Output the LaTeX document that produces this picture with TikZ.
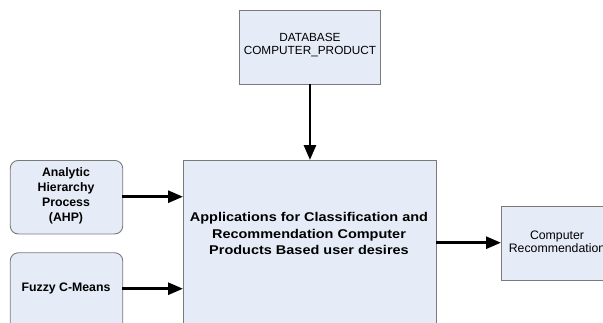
\documentclass[tikz,border=0pt]{standalone}
\usepackage{fontspec}
\setmainfont{Liberation Sans}
\newfontfamily\widefont{Liberation Sans}[FakeStretch=1.14]
\usetikzlibrary{arrows.meta}
\definecolor{boxfill}{HTML}{E6ECF7}
\definecolor{boxline}{HTML}{7A7A7A}
\tikzset{
  blk/.style={draw=boxline, fill=boxfill, line width=0.9pt, inner sep=0pt, anchor=north west},
  rblk/.style={blk, rounded corners=8pt},
  conn/.style={line width=2.8pt, -{Triangle[length=15pt,width=12pt]}},
  lbl/.style={align=center, inner sep=0pt},
}
\begin{document}
\begin{tikzpicture}[x=1pt,y=-1pt]
\useasboundingbox (0,0) rectangle (603,322);
\clip (0,0) rectangle (603,322);
% boxes
\node[blk, minimum width=141pt, minimum height=74pt] (db) at (239,9.5) {};
\node[blk, minimum width=253pt, minimum height=200pt] (main) at (183,160) {};
\node[rblk, minimum width=112.5pt, minimum height=73.5pt] (ahp) at (9.8,160) {};
\node[rblk, minimum width=112.5pt, minimum height=100pt] (fcm) at (9.8,252.3) {};
\node[blk, minimum width=200pt, minimum height=73.5pt] (rec) at (501,206) {};
% labels
\node[lbl, font=\fontsize{11.8}{13.3}\selectfont] (dbt) at (310,45) {DATABASE\\COMPUTER\_PRODUCT};
\node[lbl, font=\widefont\bfseries\fontsize{12.7}{16.6}\selectfont] (maint) at (309,233.5) {Applications for Classification and\\Recommendation Computer\\Products Based user desires};
\node[lbl, font=\bfseries\fontsize{12.3}{14.8}\selectfont] (ahpt) at (66,196) {Analytic\\Hierarchy\\Process\\(AHP)};
\node[lbl, font=\bfseries\fontsize{12.3}{14.8}\selectfont] (fcmt) at (66,288.3) {Fuzzy C-Means};
\node[lbl, font=\fontsize{12.3}{13.3}\selectfont] (rect) at (557,242) {Computer\\Recommendation};
% connectors
\coordinate (ahpout) at (122.3,196.7);
\coordinate (ahpin) at (183,196.7);
\coordinate (fcmout) at (122.3,288.7);
\coordinate (fcmin) at (183,288.7);
\coordinate (mainout) at (436,242.7);
\coordinate (recin) at (501,242.7);
\draw[conn] (db.south) -- (main.north);
\draw[conn] (ahpout) -- (ahpin);
\draw[conn] (fcmout) -- (fcmin);
\draw[conn] (mainout) -- (recin);
\end{tikzpicture}
\end{document}
